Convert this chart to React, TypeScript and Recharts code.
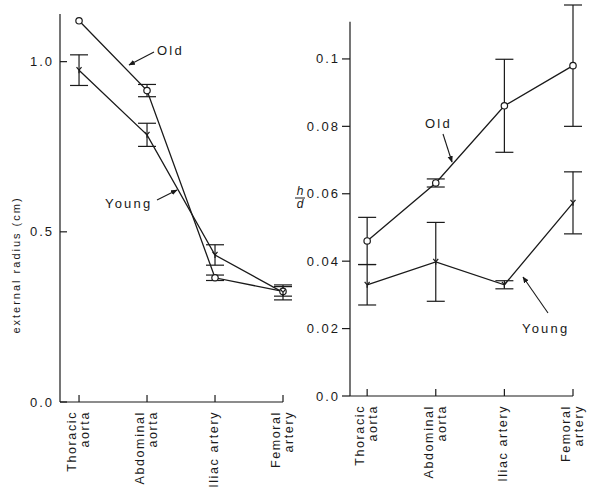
import { LineChart, Line, XAxis, YAxis, ErrorBar, ReferenceLine } from "recharts";

const FONT = '"Liberation Sans", Arial, sans-serif';
const INK = "#1a1a1a";

const sites = [
  ["Thoracic", "aorta"],
  ["Abdominal", "aorta"],
  ["Iliac artery"],
  ["Femoral", "artery"],
];

// external radius (cm)
const oldRadius = [1.12, 0.915, 0.365, 0.325];
const oldRadiusErr = [null, 0.018, 0.008, 0.014];
const youngRadius = [0.975, 0.785, 0.432, 0.322];
const youngRadiusErr = [0.045, 0.034, 0.03, 0.022];
const radiusTicks = [0, 0.5, 1.0];
const radiusTickLabels = ["0.0", "0.5", "1.0"];

// h/d
const oldRatio = [0.046, 0.0632, 0.0861, 0.098];
const oldRatioErr = [0.007, 0.0012, 0.0138, 0.018];
const youngRatio = [0.033, 0.0398, 0.033, 0.0573];
const youngRatioErr = [0.006, 0.0117, 0.0012, 0.0092];
const ratioTicks = [0, 0.02, 0.04, 0.06, 0.08, 0.1];
const ratioTickLabels = ["0.0", "0.02", "0.04", "0.06", "0.08", "0.1"];

const radiusData = sites.map((_, i) => ({
  x: i,
  old: oldRadius[i],
  oldErr: oldRadiusErr[i],
  young: youngRadius[i],
  youngErr: youngRadiusErr[i],
}));

const ratioData = sites.map((_, i) => ({
  x: i,
  old: oldRatio[i],
  oldErr: oldRatioErr[i],
  young: youngRatio[i],
  youngErr: youngRatioErr[i],
}));

const SiteTick = (props: any) => {
  const { x, y, payload } = props;
  const lines = sites[payload.value];
  const offsets = lines.length === 1 ? [3] : [-3, 10];
  return (
    <g>
      <line x1={x} x2={x} y1={y} y2={y - 7} stroke={INK} strokeWidth={1.2} />
      {lines.map((t, k) => (
        <text
          key={k}
          transform={`translate(${x + offsets[k]},${y + 9}) rotate(-90)`}
          textAnchor="end"
          fontSize={12.5}
          letterSpacing={1.6}
          fontFamily={FONT}
          fill={INK}
        >
          {t}
        </text>
      ))}
    </g>
  );
};

const makeValueTick = (ticks: number[], labels: string[], inward: boolean) => (props: any) => {
  const { x, y, payload } = props;
  const label = labels[ticks.indexOf(payload.value)];
  return (
    <g>
      <line
        x1={x}
        x2={inward ? x + 7 : x - 8}
        y1={y}
        y2={y}
        stroke={INK}
        strokeWidth={1.2}
      />
      <text
        x={inward ? x - 6 : x - 10}
        y={y}
        dy="0.35em"
        textAnchor="end"
        fontSize={13}
        letterSpacing={2}
        fontFamily={FONT}
        fill={INK}
      >
        {label}
      </text>
    </g>
  );
};

const OldDot = (props: any) => {
  const { cx, cy } = props;
  if (cx == null || cy == null) return null;
  return <circle cx={cx} cy={cy} r={3.2} fill="#fff" stroke={INK} strokeWidth={1.2} />;
};

const YoungDot = (props: any) => {
  const { cx, cy } = props;
  if (cx == null || cy == null) return null;
  return (
    <path
      d={`M${cx - 2.5},${cy - 3} L${cx},${cy} L${cx + 2.5},${cy - 3} M${cx},${cy} L${cx},${cy + 3}`}
      fill="none"
      stroke={INK}
      strokeWidth={1.2}
    />
  );
};

const RadiusTick = makeValueTick(radiusTicks, radiusTickLabels, true);
const RatioTick = makeValueTick(ratioTicks, ratioTickLabels, false);

const Panel = ({ data, ticks, domain, xDomain, tick, axisTop, top, bottom }: any) => (
  <LineChart
    width={300}
    height={490}
    data={data}
    margin={{ top, right: 17, bottom, left: 10 }}
  >
    <XAxis
      type="number"
      dataKey="x"
      domain={xDomain}
      ticks={[0, 1, 2, 3]}
      height={80}
      tickSize={0}
      tickMargin={0}
      tickLine={false}
      tick={<SiteTick />}
      stroke={INK}
      strokeWidth={1.2}
      interval={0}
    />
    <YAxis
      type="number"
      domain={domain}
      ticks={ticks}
      width={50}
      tickSize={0}
      tickMargin={0}
      tickLine={false}
      axisLine={false}
      tick={tick}
      interval={0}
    />
    <ReferenceLine
      segment={[
        { x: xDomain[0], y: 0 },
        { x: xDomain[0], y: axisTop },
      ]}
      stroke={INK}
      strokeWidth={1.2}
    />
    <Line
      dataKey="old"
      stroke={INK}
      strokeWidth={1.3}
      dot={<OldDot />}
      activeDot={false}
      isAnimationActive={false}
    >
      <ErrorBar dataKey="oldErr" width={9} stroke={INK} strokeWidth={1.2} direction="y" />
    </Line>
    <Line
      dataKey="young"
      stroke={INK}
      strokeWidth={1.3}
      dot={<YoungDot />}
      activeDot={false}
      isAnimationActive={false}
    >
      <ErrorBar dataKey="youngErr" width={9} stroke={INK} strokeWidth={1.2} direction="y" />
    </Line>
  </LineChart>
);

const Label = ({ x, y, children }: any) => (
  <text x={x} y={y} fontSize={13} letterSpacing={2.2} fontFamily={FONT} fill={INK}>
    {children}
  </text>
);

export default function App() {
  return (
    <div
      style={{
        position: "absolute",
        left: 0,
        top: 0,
        width: 589,
        height: 490,
        background: "#fff",
        overflow: "hidden",
      }}
    >
      <div style={{ position: "absolute", left: 0, top: 0 }}>
        <Panel
          data={radiusData}
          ticks={radiusTicks}
          domain={[0, 1.14]}
          xDomain={[-0.28, 3]}
          tick={<RadiusTick />}
          axisTop={1.14}
          top={14}
          bottom={8}
        />
      </div>
      <div style={{ position: "absolute", left: 290, top: 0 }}>
        <Panel
          data={ratioData}
          ticks={ratioTicks}
          domain={[0, 0.116]}
          xDomain={[-0.25, 3]}
          tick={<RatioTick />}
          axisTop={0.111}
          top={5}
          bottom={14}
        />
      </div>
      <svg
        width={589}
        height={490}
        style={{ position: "absolute", left: 0, top: 0, pointerEvents: "none" }}
      >
        <defs>
          <marker id="arr" viewBox="0 0 10 10" refX="9" refY="5" markerWidth="6" markerHeight="6" orient="auto">
            <path d="M0,1 L10,5 L0,9 z" fill={INK} />
          </marker>
        </defs>
        <text
          transform="translate(20,265) rotate(-90)"
          textAnchor="middle"
          fontSize={11}
          letterSpacing={2}
          fontFamily={FONT}
          fill={INK}
        >
          external radius (cm)
        </text>
        <text x={300} y={195} textAnchor="middle" fontSize={12} fontStyle="italic" fontFamily={FONT} fill={INK}>
          h
        </text>
        <line x1={295} x2={305} y1={198} y2={198} stroke={INK} strokeWidth={1} />
        <text x={300} y={208} textAnchor="middle" fontSize={12} fontStyle="italic" fontFamily={FONT} fill={INK}>
          d
        </text>

        <Label x={157} y={55}>Old</Label>
        <line x1={154} y1={52} x2={129} y2={65} stroke={INK} strokeWidth={1.1} markerEnd="url(#arr)" />
        <Label x={105} y={208}>Young</Label>
        <line x1={157} y1={200} x2={177} y2={190} stroke={INK} strokeWidth={1.1} markerEnd="url(#arr)" />

        <Label x={425} y={128}>Old</Label>
        <line x1={443} y1={134} x2={452} y2={162} stroke={INK} strokeWidth={1.1} markerEnd="url(#arr)" />
        <Label x={522} y={333}>Young</Label>
        <line x1={548} y1={313} x2={523} y2={277} stroke={INK} strokeWidth={1.1} markerEnd="url(#arr)" />
      </svg>
    </div>
  );
}
